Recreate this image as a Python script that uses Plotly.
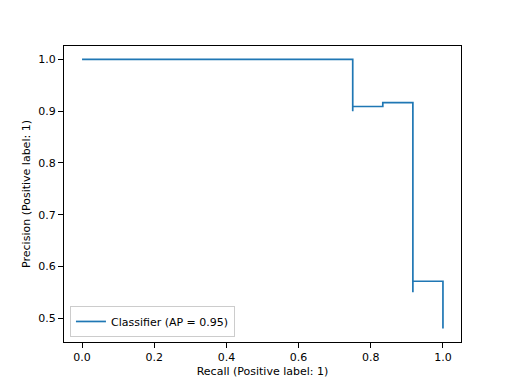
import plotly.graph_objects as go

# Precision-recall points (sklearn order, recall decreasing), drawn as steps-post
recall = [1.0, 1.0, 11/12, 11/12, 10/12, 9/12, 9/12, 0.0]
precision = [12/25, 12/21, 11/20, 11/12, 10/11, 9/10, 1.0, 1.0]
series_name = "Classifier (AP = 0.95)"
x_ticks = [0.0, 0.2, 0.4, 0.6, 0.8, 1.0]
y_ticks = [0.5, 0.6, 0.7, 0.8, 0.9, 1.0]

fig = go.Figure()
fig.add_trace(go.Scatter(
    x=recall, y=precision, mode="lines", name=series_name,
    line=dict(color="#1f77b4", width=1.7, shape="hv"),
))

font = dict(family="DejaVu Sans", size=11, color="black")
axis_common = dict(
    showgrid=False, zeroline=False, showline=True, linecolor="black",
    linewidth=1, mirror=True, ticks="outside", ticklen=5, tickwidth=1,
    tickcolor="black", tickfont=font, automargin=False,
)
fig.update_xaxes(range=[-0.05, 1.05], tickvals=x_ticks,
                 ticktext=[f"{v:.1f}" for v in x_ticks],
                 title=dict(text="Recall (Positive label: 1)", font=font, standoff=4),
                 **axis_common)
fig.update_yaxes(range=[0.454, 1.026], tickvals=y_ticks,
                 ticktext=[f"{v:.1f}" for v in y_ticks],
                 title=dict(text="Precision (Positive label: 1)", font=font, standoff=5),
                 **axis_common)
# page body has an 8px margin, so the figure is 504x376 starting at (8, 8)
fig.update_layout(
    width=504, height=376,
    margin=dict(l=56, r=51, t=38, b=42, autoexpand=False),
    paper_bgcolor="white", plot_bgcolor="white",
    font=font,
    showlegend=True,
    legend=dict(x=0.015, y=0.017, xanchor="left", yanchor="bottom",
                bgcolor="rgba(255,255,255,0.8)", bordercolor="#cccccc",
                borderwidth=1, font=font, itemwidth=30),
)
fig.write_html("out.html")
